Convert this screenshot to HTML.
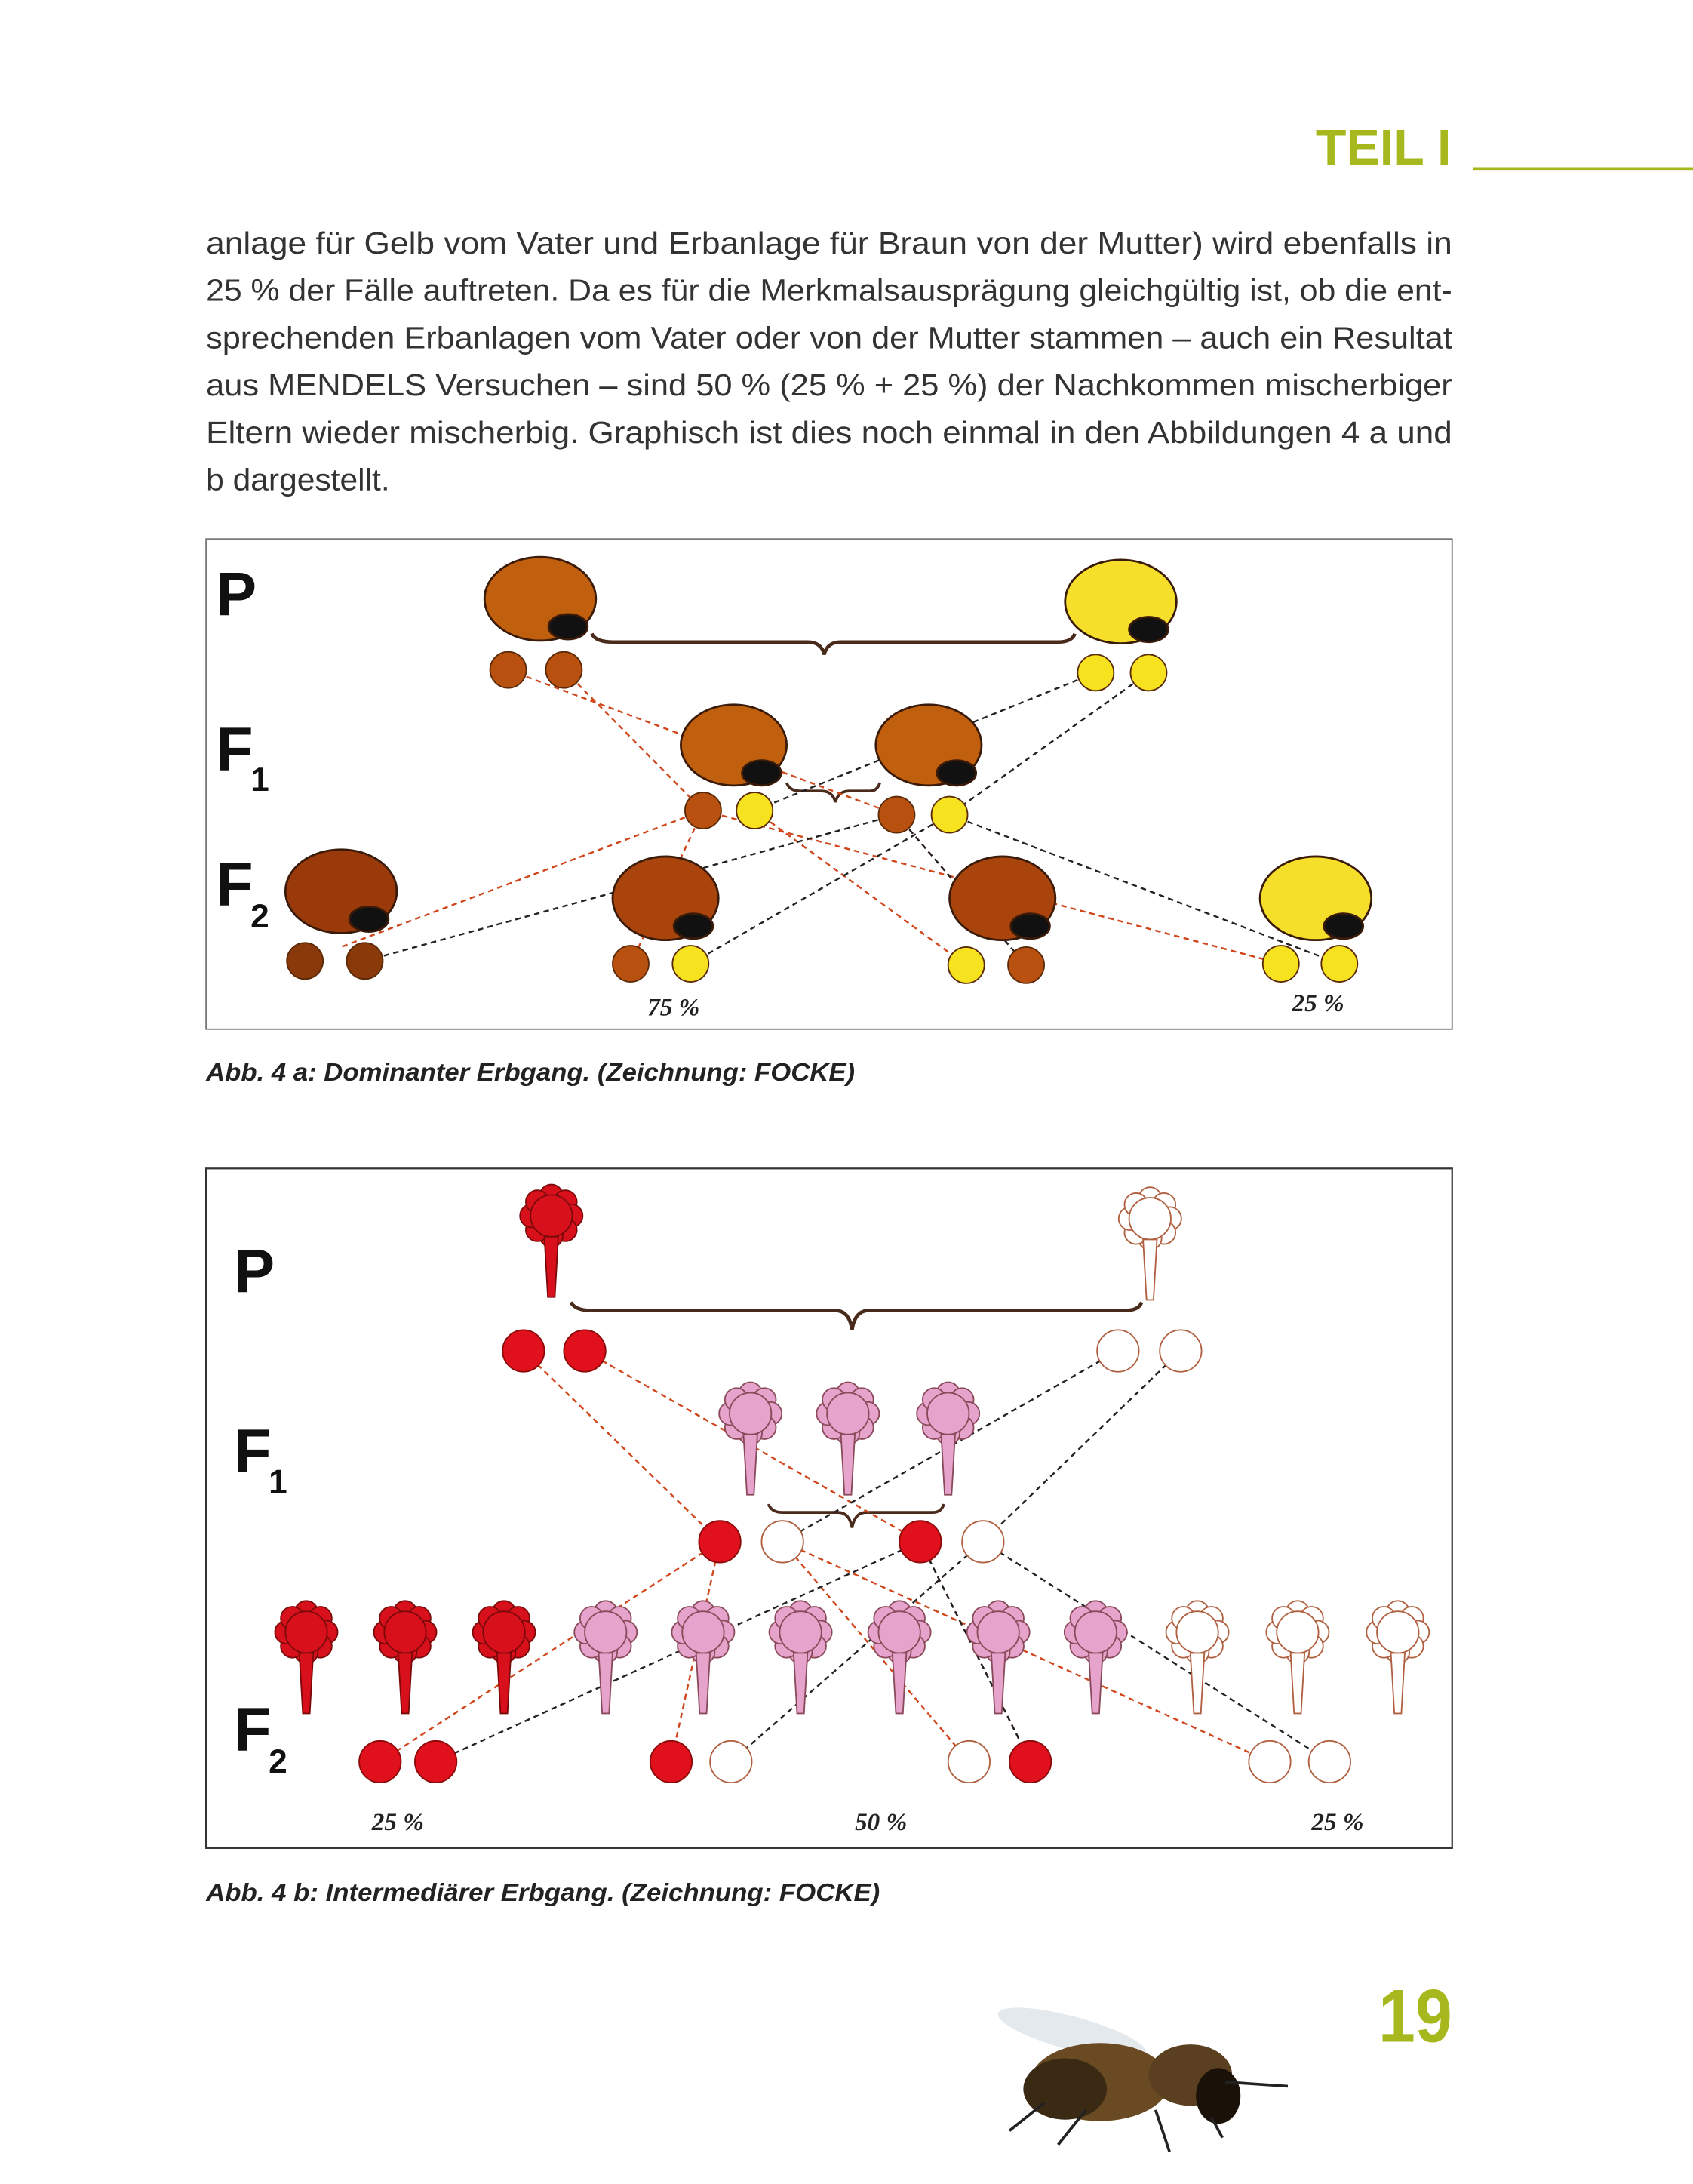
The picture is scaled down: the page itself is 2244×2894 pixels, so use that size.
<!DOCTYPE html>
<html><head><meta charset="utf-8"><style>html,body{margin:0;padding:0;background:#fff}svg{display:block}</style></head>
<body>
<svg width="2244" height="2894" viewBox="0 0 1216 1568.2" xmlns="http://www.w3.org/2000/svg" font-family="Liberation Sans, sans-serif">
<defs>
<symbol id="fl" viewBox="-30 -30 60 120" overflow="visible">
<g>
<circle cx="0" cy="-17" r="10"/><circle cx="12" cy="-12" r="10"/><circle cx="17" cy="0" r="10"/><circle cx="12" cy="12" r="10"/>
<circle cx="0" cy="17" r="10"/><circle cx="-12" cy="12" r="10"/><circle cx="-17" cy="0" r="10"/><circle cx="-12" cy="-12" r="10"/>
<circle cx="0" cy="0" r="18"/>
<path d="M-6 18 L-3 70 L3 70 L6 18 Z"/>
</g>
</symbol>
</defs>
<text x="945" y="118" font-size="36" font-weight="bold" fill="#a6b81e">TEIL I</text>
<rect x="1058" y="120" width="158" height="2" fill="#a6b81e"/>
<g font-size="22" fill="#333">
<text x="148" y="182" textLength="895" lengthAdjust="spacingAndGlyphs">anlage für Gelb vom Vater und Erbanlage für Braun von der Mutter) wird ebenfalls in</text>
<text x="148" y="216" textLength="895" lengthAdjust="spacingAndGlyphs">25 % der Fälle auftreten. Da es für die Merkmalsausprägung gleichgültig ist, ob die ent-</text>
<text x="148" y="250" textLength="895" lengthAdjust="spacingAndGlyphs">sprechenden Erbanlagen vom Vater oder von der Mutter stammen – auch ein Resultat</text>
<text x="148" y="284" textLength="895" lengthAdjust="spacingAndGlyphs">aus MENDELS Versuchen – sind 50 % (25 % + 25 %) der Nachkommen mischerbiger</text>
<text x="148" y="318" textLength="895" lengthAdjust="spacingAndGlyphs">Eltern wieder mischerbig. Graphisch ist dies noch einmal in den Abbildungen 4 a und</text>
<text x="148" y="352" textLength="132" lengthAdjust="spacingAndGlyphs">b dargestellt.</text>
</g>
<rect x="148" y="387" width="895" height="352" fill="#fff" stroke="#777" stroke-width="1"/>
<g font-weight="bold" fill="#111">
<text x="155" y="442" font-size="44">P</text>
<text x="155" y="553" font-size="44">F</text><text x="180" y="568" font-size="24">1</text>
<text x="155" y="650" font-size="44">F</text><text x="180" y="666" font-size="24">2</text>
</g>
<path d="M425 455 Q428 461 440 461 L580 461 Q590 461 592 470 Q594 461 604 461 L760 461 Q770 461 772 455" fill="none" stroke="#4a2a1a" stroke-width="2.5"/>
<path d="M565 562 Q567 568 575 568 L590 568 Q598 568 600 576 Q602 568 610 568 L625 568 Q630 568 632 562" fill="none" stroke="#4a2a1a" stroke-width="2"/>
<g fill="none" stroke-width="1.3" stroke-dasharray="4,3">
<g stroke="#d0451a">
<line x1="405" y1="481" x2="505" y2="582"/><line x1="365" y1="481" x2="644" y2="585"/>
<line x1="505" y1="582" x2="245" y2="680"/><line x1="505" y1="582" x2="453" y2="692"/>
<line x1="542" y1="582" x2="694" y2="693"/><line x1="644" y1="585" x2="737" y2="693"/>
<line x1="505" y1="582" x2="920" y2="692"/>
</g>
<g stroke="#222">
<line x1="787" y1="483" x2="542" y2="582"/><line x1="825" y1="483" x2="682" y2="585"/>
<line x1="644" y1="585" x2="262" y2="690"/><line x1="682" y1="585" x2="496" y2="692"/>
<line x1="682" y1="585" x2="962" y2="692"/><line x1="644" y1="585" x2="737" y2="693"/>
</g>
</g>
<g stroke="#3a1a08" stroke-width="1.5">
<ellipse cx="388" cy="430" rx="40" ry="30" fill="#c0600f"/><ellipse cx="408" cy="450" rx="14" ry="9" fill="#111"/>
<ellipse cx="805" cy="432" rx="40" ry="30" fill="#f5df2a"/><ellipse cx="825" cy="452" rx="14" ry="9" fill="#111"/>
<ellipse cx="527" cy="535" rx="38" ry="29" fill="#c0600f"/><ellipse cx="547" cy="555" rx="14" ry="9" fill="#111"/>
<ellipse cx="667" cy="535" rx="38" ry="29" fill="#c0600f"/><ellipse cx="687" cy="555" rx="14" ry="9" fill="#111"/>
<ellipse cx="245" cy="640" rx="40" ry="30" fill="#9a3a0a"/><ellipse cx="265" cy="660" rx="14" ry="9" fill="#111"/>
<ellipse cx="478" cy="645" rx="38" ry="30" fill="#a8440c"/><ellipse cx="498" cy="665" rx="14" ry="9" fill="#111"/>
<ellipse cx="720" cy="645" rx="38" ry="30" fill="#a8440c"/><ellipse cx="740" cy="665" rx="14" ry="9" fill="#111"/>
<ellipse cx="945" cy="645" rx="40" ry="30" fill="#f5df2a"/><ellipse cx="965" cy="665" rx="14" ry="9" fill="#111"/>
</g>
<g stroke="#5a2a08" stroke-width="1">
<circle cx="365" cy="481" r="13" fill="#b8500f"/><circle cx="405" cy="481" r="13" fill="#b8500f"/>
<circle cx="787" cy="483" r="13" fill="#f7e21f"/><circle cx="825" cy="483" r="13" fill="#f7e21f"/>
<circle cx="505" cy="582" r="13" fill="#b8500f"/><circle cx="542" cy="582" r="13" fill="#f7e21f"/>
<circle cx="644" cy="585" r="13" fill="#b8500f"/><circle cx="682" cy="585" r="13" fill="#f7e21f"/>
<circle cx="219" cy="690" r="13" fill="#8a3a0a"/><circle cx="262" cy="690" r="13" fill="#8a3a0a"/>
<circle cx="453" cy="692" r="13" fill="#b8500f"/><circle cx="496" cy="692" r="13" fill="#f7e21f"/>
<circle cx="694" cy="693" r="13" fill="#f7e21f"/><circle cx="737" cy="693" r="13" fill="#b8500f"/>
<circle cx="920" cy="692" r="13" fill="#f7e21f"/><circle cx="962" cy="692" r="13" fill="#f7e21f"/>
</g>
<g font-family="Liberation Serif, serif" font-weight="bold" font-style="italic" font-size="18" fill="#222">
<text x="465" y="729">75 %</text><text x="928" y="726">25 %</text>
</g>
<text x="148" y="776" font-size="18" font-weight="bold" font-style="italic" fill="#222" textLength="466" lengthAdjust="spacingAndGlyphs">Abb. 4 a: Dominanter Erbgang. (Zeichnung: FOCKE)</text>
<rect x="148" y="839" width="895" height="488" fill="#fff" stroke="#333" stroke-width="1.2"/>
<g font-weight="bold" fill="#111">
<text x="168" y="928" font-size="44">P</text>
<text x="168" y="1057" font-size="44">F</text><text x="193" y="1072" font-size="24">1</text>
<text x="168" y="1257" font-size="44">F</text><text x="193" y="1273" font-size="24">2</text>
</g>
<path d="M410 935 Q413 941 425 941 L600 941 Q610 941 612 955 Q614 941 624 941 L808 941 Q818 941 820 935" fill="none" stroke="#4a2a1a" stroke-width="2.5"/>
<path d="M552 1080 Q554 1086 562 1086 L602 1086 Q610 1086 612 1097 Q614 1086 622 1086 L670 1086 Q676 1086 678 1080" fill="none" stroke="#4a2a1a" stroke-width="2"/>
<g fill="none" stroke-width="1.3" stroke-dasharray="4,3">
<g stroke="#d0451a">
<line x1="376" y1="970" x2="517" y2="1107"/><line x1="420" y1="970" x2="661" y2="1107"/>
<line x1="517" y1="1107" x2="273" y2="1265"/><line x1="517" y1="1107" x2="482" y2="1265"/>
<line x1="562" y1="1107" x2="912" y2="1265"/><line x1="661" y1="1107" x2="740" y2="1265"/>
<line x1="562" y1="1107" x2="696" y2="1265"/>
</g>
<g stroke="#222">
<line x1="803" y1="970" x2="562" y2="1107"/><line x1="848" y1="970" x2="706" y2="1107"/>
<line x1="661" y1="1107" x2="313" y2="1265"/><line x1="706" y1="1107" x2="525" y2="1265"/>
<line x1="706" y1="1107" x2="955" y2="1265"/><line x1="661" y1="1107" x2="740" y2="1265"/>
</g>
</g>
<g stroke-width="1.2">
<use href="#fl" x="371" y="848" width="50" height="100" fill="#d8101c" stroke="#7a0a0a"/>
<use href="#fl" x="801" y="850" width="50" height="100" fill="#fff" stroke="#b06040"/>
<g fill="#e6a4cc" stroke="#8a4a5a">
<use href="#fl" x="514" y="990" width="50" height="100"/><use href="#fl" x="584" y="990" width="50" height="100"/><use href="#fl" x="656" y="990" width="50" height="100"/>
<use href="#fl" x="410" y="1147" width="50" height="100"/><use href="#fl" x="480" y="1147" width="50" height="100"/><use href="#fl" x="550" y="1147" width="50" height="100"/>
<use href="#fl" x="621" y="1147" width="50" height="100"/><use href="#fl" x="692" y="1147" width="50" height="100"/><use href="#fl" x="762" y="1147" width="50" height="100"/>
</g>
<g fill="#d8101c" stroke="#7a0a0a">
<use href="#fl" x="195" y="1147" width="50" height="100"/><use href="#fl" x="266" y="1147" width="50" height="100"/><use href="#fl" x="337" y="1147" width="50" height="100"/>
</g>
<g fill="#fff" stroke="#b06040">
<use href="#fl" x="835" y="1147" width="50" height="100"/><use href="#fl" x="907" y="1147" width="50" height="100"/><use href="#fl" x="979" y="1147" width="50" height="100"/>
</g>
</g>
<g stroke-width="1">
<g fill="#e0101c" stroke="#8a0a0a">
<circle cx="376" cy="970" r="15"/><circle cx="420" cy="970" r="15"/><circle cx="517" cy="1107" r="15"/><circle cx="661" cy="1107" r="15"/>
<circle cx="273" cy="1265" r="15"/><circle cx="313" cy="1265" r="15"/><circle cx="482" cy="1265" r="15"/><circle cx="740" cy="1265" r="15"/>
</g>
<g fill="#fff" stroke="#b06040">
<circle cx="803" cy="970" r="15"/><circle cx="848" cy="970" r="15"/><circle cx="562" cy="1107" r="15"/><circle cx="706" cy="1107" r="15"/>
<circle cx="525" cy="1265" r="15"/><circle cx="696" cy="1265" r="15"/><circle cx="912" cy="1265" r="15"/><circle cx="955" cy="1265" r="15"/>
</g>
</g>
<g font-family="Liberation Serif, serif" font-weight="bold" font-style="italic" font-size="18" fill="#222">
<text x="267" y="1314">25 %</text><text x="614" y="1314">50 %</text><text x="942" y="1314">25 %</text>
</g>
<text x="148" y="1365" font-size="18" font-weight="bold" font-style="italic" fill="#222" textLength="484" lengthAdjust="spacingAndGlyphs">Abb. 4 b: Intermediärer Erbgang. (Zeichnung: FOCKE)</text>
<text x="990" y="1466" font-size="54" font-weight="bold" fill="#a6b81e" textLength="53" lengthAdjust="spacingAndGlyphs">19</text>
<g>
<ellipse cx="770" cy="1460" rx="55" ry="12" fill="#dde3ea" opacity="0.8" transform="rotate(15 770 1460)"/>
<ellipse cx="790" cy="1495" rx="50" ry="28" fill="#6a4a22"/>
<ellipse cx="765" cy="1500" rx="30" ry="22" fill="#3a2a14"/>
<ellipse cx="855" cy="1490" rx="30" ry="22" fill="#5a4020"/>
<ellipse cx="875" cy="1505" rx="16" ry="20" fill="#1a1208"/>
<path d="M880 1495 L925 1498 M870 1520 L878 1535 M830 1515 L840 1545 M780 1515 L760 1540 M750 1510 L725 1530" stroke="#222" stroke-width="2" fill="none"/>
</g>
</svg>
</body></html>
